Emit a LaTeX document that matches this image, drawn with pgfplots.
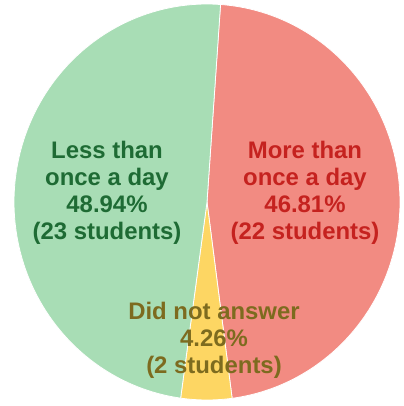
\documentclass[border=0pt]{standalone}
\usepackage{pgfplots}
\pgfplotsset{compat=1.18}
\usepackage{fontspec}
\setmainfont{Liberation Sans}
\definecolor{gfill}{HTML}{A8DDB5}
\definecolor{rfill}{HTML}{F28B82}
\definecolor{yfill}{HTML}{FDD663}
\definecolor{gtext}{HTML}{1E6B34}
\definecolor{rtext}{HTML}{C5221F}
\definecolor{ytext}{HTML}{7D6B1F}
\tikzset{lbl/.style={font=\bfseries\fontsize{24}{27}\selectfont, align=center, inner sep=0pt}}
\begin{document}
\begin{tikzpicture}
% shares in percent
\def\pMore{46.81}
\def\pNone{4.26}
\def\pLess{48.94}
\pgfmathsetmacro{\aA}{86}
\pgfmathsetmacro{\aB}{\aA-3.6*\pMore}
\pgfmathsetmacro{\aC}{\aB-3.6*\pNone}
\pgfmathsetmacro{\aD}{\aC-3.6*\pLess}
\def\cx{207}\def\cy{204}\def\rx{193}\def\ry{198}
\begin{axis}[
  scale only axis, width=404bp, height=406bp,
  xmin=0, xmax=404, ymin=0, ymax=406,
  hide axis, clip=false,
]
\path[draw=none, fill=none] (axis cs:0,0) rectangle (axis cs:404,406);
\addplot[fill=rfill, draw=white, line width=0.8bp, domain=\aB:\aA, samples=120, variable=\t]
  ({\cx+\rx*cos(t)},{\cy+\ry*sin(t)}) -- (axis cs:\cx,\cy) -- cycle;
\addplot[fill=yfill, draw=white, line width=0.8bp, domain=\aC:\aB, samples=20, variable=\t]
  ({\cx+\rx*cos(t)},{\cy+\ry*sin(t)}) -- (axis cs:\cx,\cy) -- cycle;
\addplot[fill=gfill, draw=white, line width=0.8bp, domain=\aD:\aC, samples=120, variable=\t]
  ({\cx+\rx*cos(t)},{\cy+\ry*sin(t)}) -- (axis cs:\cx,\cy) -- cycle;
\node[lbl, text=gtext] at (axis cs:107,213) {Less than\\once a day\\48.94\%\\(23 students)};
\node[lbl, text=rtext] at (axis cs:305,213) {More than\\once a day\\46.81\%\\(22 students)};
\node[lbl, text=ytext] at (axis cs:214,66) {Did not answer\\4.26\%\\(2 students)};
\end{axis}
\end{tikzpicture}
\end{document}
